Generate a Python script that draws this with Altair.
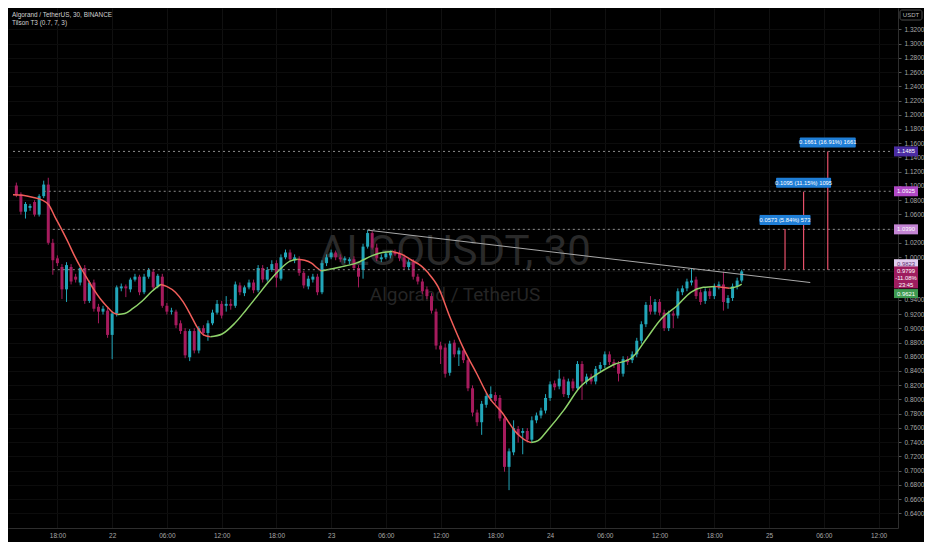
import altair as alt
import pandas as pd

W, H = 890, 520

# ---------------- candle data (30 min bars) ----------------
bar_times = [t.strftime("%Y-%m-%dT%H:%M:00Z")
             for t in pd.date_range("2022-01-21 13:30", periods=160, freq="30min")]

opens = [
    1.1006, 1.0883, 1.0638, 1.0692, 1.0774, 1.0597, 1.0856, 1.1019, 1.0201, 0.9983,
    0.9861, 0.9547, 0.9861, 0.9725, 0.9643, 0.9847, 0.9384, 0.9643, 0.9302, 0.9234,
    0.9248, 0.8907, 0.9207, 0.9561, 0.9588, 0.9547, 0.9684, 0.9725, 0.9506, 0.9725,
    0.9793, 0.9588, 0.9725, 0.9316, 0.9234, 0.9234, 0.9070, 0.8961, 0.8593, 0.8961,
    0.8688, 0.9002, 0.8934, 0.9070, 0.9220, 0.9343, 0.9316, 0.9343, 0.9316, 0.9602,
    0.9493, 0.9575, 0.9643, 0.9534, 0.9847, 0.9684, 0.9820, 0.9915, 0.9697, 0.9997,
    1.0065, 0.9956, 0.9970, 0.9779, 0.9588, 0.9684, 0.9725, 0.9506, 0.9915, 0.9997,
    1.0065, 0.9997, 0.9956, 0.9943, 0.9970, 0.9847, 0.9820, 1.0147, 1.0338, 1.0133,
    0.9970, 0.9997, 1.0024, 1.0065, 1.0052, 0.9997, 0.9861, 0.9929, 0.9725, 0.9657,
    0.9547, 0.9452, 0.9234, 0.8757, 0.8729, 0.8375, 0.8798, 0.8634, 0.8688, 0.8552,
    0.8157, 0.7816, 0.7680, 0.7925, 0.8021, 0.8062, 0.8021, 0.7734, 0.7053, 0.7257,
    0.7585, 0.7530, 0.7557, 0.7435, 0.7707, 0.7775, 0.7844, 0.8021, 0.8225, 0.8184,
    0.8280, 0.8062, 0.8253, 0.8157, 0.8498, 0.8253, 0.8321, 0.8253, 0.8430, 0.8484,
    0.8634, 0.8525, 0.8498, 0.8362, 0.8566, 0.8552, 0.8634, 0.8825, 0.9057, 0.9329,
    0.9234, 0.9370, 0.9220, 0.9002, 0.9207, 0.9179, 0.9506, 0.9561, 0.9643, 0.9684,
    0.9506, 0.9384, 0.9520, 0.9452, 0.9588, 0.9616, 0.9356, 0.9425, 0.9588, 0.9670,
]
highs = [
    1.1047, 1.0910, 1.0774, 1.0747, 1.0801, 1.0883, 1.1074, 1.1115, 1.0256, 1.0024,
    0.9902, 0.9929, 0.9902, 0.9765, 0.9874, 0.9888, 0.9670, 0.9684, 0.9343, 0.9316,
    0.9288, 0.9234, 0.9602, 0.9629, 0.9616, 0.9711, 0.9765, 0.9752, 0.9765, 0.9847,
    0.9834, 0.9765, 0.9765, 0.9356, 0.9288, 0.9261, 0.9111, 0.9002, 0.8988, 0.9002,
    0.9029, 0.9043, 0.9111, 0.9261, 0.9397, 0.9384, 0.9452, 0.9411, 0.9657, 0.9643,
    0.9602, 0.9684, 0.9684, 0.9888, 0.9888, 0.9861, 0.9956, 0.9956, 1.0038, 1.0106,
    1.0106, 1.0038, 1.0011, 0.9806, 0.9738, 0.9765, 0.9765, 0.9956, 1.0038, 1.0106,
    1.0092, 1.0038, 1.0011, 0.9997, 1.0011, 0.9888, 1.0188, 1.0379, 1.0365, 1.0188,
    1.0038, 1.0079, 1.0092, 1.0106, 1.0092, 1.0038, 0.9970, 0.9970, 0.9765, 0.9697,
    0.9588, 0.9493, 0.9275, 0.8811, 0.8784, 0.8825, 0.8839, 0.8729, 0.8729, 0.8593,
    0.8198, 0.7857, 0.7980, 0.8089, 0.8184, 0.8103, 0.8062, 0.7775, 0.7312, 0.7707,
    0.7626, 0.7598, 0.7598, 0.7762, 0.7816, 0.7884, 0.8075, 0.8253, 0.8266, 0.8416,
    0.8321, 0.8293, 0.8293, 0.8539, 0.8539, 0.8362, 0.8362, 0.8470, 0.8525, 0.8675,
    0.8675, 0.8566, 0.8539, 0.8607, 0.8607, 0.8675, 0.8866, 0.9098, 0.9370, 0.9452,
    0.9411, 0.9411, 0.9261, 0.9248, 0.9248, 0.9561, 0.9602, 0.9697, 0.9847, 0.9725,
    0.9547, 0.9561, 0.9561, 0.9629, 0.9657, 0.9793, 0.9465, 0.9629, 0.9711, 0.9823,
]
lows = [
    1.0842, 1.0597, 1.0542, 1.0651, 1.0570, 1.0570, 1.0829, 1.0174, 0.9752, 0.9874,
    0.9411, 0.9370, 0.9616, 0.9643, 0.9602, 0.9343, 0.9356, 0.9234, 0.9070, 0.9193,
    0.8866, 0.8566, 0.9166, 0.9520, 0.9438, 0.9506, 0.9657, 0.9465, 0.9479, 0.9697,
    0.9547, 0.9561, 0.9288, 0.9193, 0.9193, 0.9002, 0.8920, 0.8580, 0.8539, 0.8648,
    0.8648, 0.8893, 0.8825, 0.9043, 0.9193, 0.9138, 0.9234, 0.9261, 0.9288, 0.9465,
    0.9452, 0.9547, 0.9493, 0.9506, 0.9643, 0.9657, 0.9793, 0.9575, 0.9670, 0.9970,
    0.9929, 0.9915, 0.9738, 0.9561, 0.9547, 0.9643, 0.9465, 0.9479, 0.9874, 0.9970,
    0.9956, 0.9929, 0.9915, 0.9902, 0.9820, 0.9575, 0.9697, 1.0120, 1.0106, 0.9943,
    0.9929, 0.9970, 0.9983, 1.0011, 0.9943, 0.9820, 0.9820, 0.9684, 0.9616, 0.9479,
    0.9411, 0.9207, 0.8702, 0.8498, 0.8307, 0.8334, 0.8593, 0.8470, 0.8511, 0.8116,
    0.7762, 0.7626, 0.7503, 0.7884, 0.7980, 0.7939, 0.7694, 0.6985, 0.6726, 0.7216,
    0.7394, 0.7230, 0.7394, 0.7394, 0.7666, 0.7734, 0.7803, 0.7980, 0.8130, 0.8143,
    0.8034, 0.8021, 0.8116, 0.8130, 0.7993, 0.8212, 0.8212, 0.8212, 0.8389, 0.8443,
    0.8484, 0.8443, 0.8253, 0.8321, 0.8484, 0.8511, 0.8593, 0.8784, 0.9016, 0.9193,
    0.9193, 0.9179, 0.8961, 0.8961, 0.9002, 0.9138, 0.9465, 0.9520, 0.9602, 0.9411,
    0.9329, 0.9343, 0.9411, 0.9411, 0.9547, 0.9248, 0.9275, 0.9384, 0.9547, 0.9643,
]
closes = [
    1.0869, 1.0638, 1.0747, 1.0719, 1.0597, 1.0856, 1.1019, 1.0201, 0.9956, 0.9915,
    0.9547, 0.9888, 0.9657, 0.9684, 0.9847, 0.9384, 0.9643, 0.9275, 0.9234, 0.9275,
    0.8907, 0.9207, 0.9575, 0.9588, 0.9561, 0.9684, 0.9725, 0.9506, 0.9725, 0.9820,
    0.9575, 0.9738, 0.9316, 0.9234, 0.9248, 0.9043, 0.8961, 0.8620, 0.8961, 0.8688,
    0.9002, 0.8934, 0.9070, 0.9220, 0.9343, 0.9179, 0.9343, 0.9316, 0.9616, 0.9506,
    0.9575, 0.9643, 0.9534, 0.9847, 0.9684, 0.9820, 0.9902, 0.9711, 0.9997, 1.0065,
    0.9970, 0.9997, 0.9779, 0.9602, 0.9697, 0.9725, 0.9506, 0.9915, 0.9997, 1.0065,
    0.9997, 0.9970, 0.9983, 0.9970, 0.9847, 0.9725, 1.0147, 1.0338, 1.0133, 0.9983,
    0.9997, 1.0052, 1.0065, 1.0038, 0.9983, 0.9861, 0.9929, 0.9725, 0.9657, 0.9520,
    0.9452, 0.9248, 0.8757, 0.8702, 0.8361, 0.8784, 0.8634, 0.8688, 0.8552, 0.8157,
    0.7816, 0.7680, 0.7939, 0.8048, 0.8075, 0.7980, 0.7734, 0.7053, 0.7271, 0.7598,
    0.7503, 0.7557, 0.7435, 0.7707, 0.7775, 0.7844, 0.8021, 0.8212, 0.8171, 0.8293,
    0.8075, 0.8253, 0.8157, 0.8498, 0.8253, 0.8321, 0.8253, 0.8430, 0.8484, 0.8634,
    0.8525, 0.8484, 0.8362, 0.8566, 0.8525, 0.8634, 0.8825, 0.9057, 0.9329, 0.9234,
    0.9370, 0.9220, 0.9002, 0.9207, 0.9179, 0.9520, 0.9561, 0.9657, 0.9670, 0.9452,
    0.9370, 0.9520, 0.9452, 0.9588, 0.9616, 0.9370, 0.9425, 0.9588, 0.9670, 0.9799,
]

# ---------------- Tilson T3 line ----------------
t3_times = [
    "2022-01-21T13:08:00Z", "2022-01-21T14:12:00Z", "2022-01-21T15:16:00Z", "2022-01-21T16:20:00Z",
    "2022-01-21T17:04:00Z", "2022-01-21T17:43:00Z", "2022-01-21T18:27:00Z", "2022-01-21T19:12:00Z",
    "2022-01-21T19:51:00Z", "2022-01-21T20:35:00Z", "2022-01-21T21:20:00Z", "2022-01-21T21:59:00Z",
    "2022-01-21T22:43:00Z", "2022-01-21T23:28:00Z", "2022-01-22T00:06:00Z", "2022-01-22T00:38:00Z",
    "2022-01-22T00:38:00Z", "2022-01-22T01:23:00Z", "2022-01-22T02:14:00Z", "2022-01-22T03:18:00Z",
    "2022-01-22T04:22:00Z", "2022-01-22T05:20:00Z",
    "2022-01-22T05:20:00Z", "2022-01-22T05:58:00Z", "2022-01-22T06:56:00Z", "2022-01-22T07:47:00Z",
    "2022-01-22T08:38:00Z", "2022-01-22T09:23:00Z", "2022-01-22T10:01:00Z", "2022-01-22T10:46:00Z",
    "2022-01-22T10:46:00Z", "2022-01-22T12:03:00Z", "2022-01-22T13:26:00Z", "2022-01-22T14:42:00Z",
    "2022-01-22T15:59:00Z", "2022-01-22T17:16:00Z", "2022-01-22T18:33:00Z", "2022-01-22T19:30:00Z",
    "2022-01-22T20:21:00Z",
    "2022-01-22T20:21:00Z", "2022-01-22T21:06:00Z", "2022-01-22T21:51:00Z", "2022-01-22T22:29:00Z",
    "2022-01-22T22:55:00Z",
    "2022-01-22T22:55:00Z", "2022-01-22T23:59:00Z", "2022-01-23T01:03:00Z", "2022-01-23T02:45:00Z",
    "2022-01-23T04:34:00Z", "2022-01-23T05:38:00Z", "2022-01-23T06:42:00Z",
    "2022-01-23T06:42:00Z", "2022-01-23T07:46:00Z", "2022-01-23T08:50:00Z", "2022-01-23T09:54:00Z",
    "2022-01-23T10:38:00Z", "2022-01-23T11:42:00Z", "2022-01-23T13:05:00Z", "2022-01-23T14:28:00Z",
    "2022-01-23T15:58:00Z", "2022-01-23T17:21:00Z", "2022-01-23T18:44:00Z", "2022-01-23T20:14:00Z",
    "2022-01-23T21:37:00Z", "2022-01-23T21:56:00Z",
    "2022-01-23T21:56:00Z", "2022-01-23T22:41:00Z", "2022-01-23T23:45:00Z", "2022-01-24T01:33:00Z",
    "2022-01-24T03:16:00Z", "2022-01-24T05:04:00Z", "2022-01-24T06:53:00Z", "2022-01-24T09:01:00Z",
    "2022-01-24T10:24:00Z", "2022-01-24T12:13:00Z", "2022-01-24T13:55:00Z", "2022-01-24T15:25:00Z",
    "2022-01-24T16:48:00Z", "2022-01-24T18:05:00Z",
    "2022-01-24T18:05:00Z", "2022-01-24T18:49:00Z", "2022-01-24T19:40:00Z",
    "2022-01-24T19:40:00Z", "2022-01-24T20:32:00Z", "2022-01-24T21:00:00Z",
]
t3_values = [
    1.0876, 1.0869, 1.0842, 1.0801, 1.0733, 1.0570, 1.0392, 1.0202, 1.0024, 0.9847,
    0.9684, 0.9547, 0.9411, 0.9302, 0.9220, 0.9193,
    0.9193, 0.9207, 0.9275, 0.9384, 0.9520, 0.9616,
    0.9616, 0.9588, 0.9506, 0.9370, 0.9179, 0.9002, 0.8907, 0.8880,
    0.8880, 0.8920, 0.9070, 0.9261, 0.9466, 0.9670, 0.9847, 0.9943, 0.9970,
    0.9970, 0.9956, 0.9915, 0.9847, 0.9806,
    0.9806, 0.9834, 0.9861, 0.9915, 1.0024, 1.0065, 1.0079,
    1.0079, 1.0038, 0.9956, 0.9874, 0.9779, 0.9588, 0.9138, 0.8729, 0.8361, 0.8021,
    0.7816, 0.7544, 0.7407, 0.7394,
    0.7394, 0.7421, 0.7571, 0.7857, 0.8171, 0.8348, 0.8484, 0.8593, 0.8825, 0.9138,
    0.9316, 0.9506, 0.9575, 0.9588,
    0.9588, 0.9575, 0.9561,
    0.9561, 0.9588, 0.9621,
]
t3_segment = ([0] * 16 + [1] * 6 + [2] * 8 + [3] * 9 + [4] * 5 + [5] * 7 +
              [6] * 14 + [7] * 14 + [8] * 3 + [9] * 3)

# ---------------- drawings ----------------
domain_start = "2022-01-21T13:08:00Z"
domain_end = "2022-01-25T13:35:00Z"
level_prices = [1.1485, 1.0925, 1.0390, 0.9823]
level_starts = ["2022-01-21T13:08:00Z", "2022-01-21T16:30:00Z",
                "2022-01-21T17:30:00Z", "2022-01-21T17:30:00Z"]

trend_times = ["2022-01-23T04:00:00Z", "2022-01-25T04:31:00Z"]
trend_prices = [1.0379, 0.9643]

measure_times = ["2022-01-25T01:45:00Z", "2022-01-25T03:47:00Z", "2022-01-25T06:26:00Z"]
measure_base = 0.9823
measure_tops = [1.0396, 1.0918, 1.1484]
measure_texts = ["0.0573 (5.84%) 573", "0.1095 (11.15%) 1095", "0.1661 (16.91%) 1661"]
measure_box_w = [51, 55, 56]

x_tick_times = [
    "2022-01-21T18:00", "2022-01-22T00:00", "2022-01-22T06:00", "2022-01-22T12:00",
    "2022-01-22T18:00", "2022-01-23T00:00", "2022-01-23T06:00", "2022-01-23T12:00",
    "2022-01-23T18:00", "2022-01-24T00:00", "2022-01-24T06:00", "2022-01-24T12:00",
    "2022-01-24T18:00", "2022-01-25T00:00", "2022-01-25T06:00", "2022-01-25T12:00",
]
y_ticks = [0.64, 0.66, 0.68, 0.70, 0.72, 0.74, 0.76, 0.78, 0.80, 0.82, 0.84, 0.86,
           0.88, 0.90, 0.92, 0.94, 0.96, 0.98, 1.00, 1.02, 1.04, 1.06, 1.08, 1.10,
           1.12, 1.14, 1.16, 1.18, 1.20, 1.22, 1.24, 1.26, 1.28, 1.30, 1.32]
hidden_y_labels = [0.96, 0.98, 1.04]   # covered by the price tags in the reference

# ---------------- build ----------------
def dt(s):
    ts = pd.Timestamp(s.replace("Z", ""))
    return alt.DateTime(year=ts.year, month=ts.month, date=ts.day,
                        hours=ts.hour, minutes=ts.minute, utc=True)

FONT = "Liberation Sans"
x_scale = alt.Scale(type="utc", domain=[dt(domain_start), dt(domain_end)])
y_scale = alt.Scale(domain=[0.6194, 1.35], nice=False, zero=False)
x_axis = alt.Axis(values=[dt(v) for v in x_tick_times],
                  labelExpr="utchours(datum.value) == 0 ? utcFormat(datum.value, '%-d') : utcFormat(datum.value, '%H:%M')",
                  grid=True, gridColor="#101010", domainColor="#2e2e2e", ticks=False,
                  labelColor="#a8a8a8", labelFont=FONT, labelFontSize=6.5, labelPadding=4,
                  labelAngle=0, labelOverlap=False, labelFlush=False, title=None)
hide_expr = " || ".join(f"abs(datum.value - {v}) < 0.0001" for v in hidden_y_labels)
y_axis = alt.Axis(orient="right", values=y_ticks, grid=True, gridColor="#0c0c0c",
                  labelExpr=f"({hide_expr}) ? '' : format(datum.value, '.4f')",
                  domainColor="#2e2e2e", tickColor="#555555", tickSize=3,
                  labelColor="#a8a8a8", labelFont=FONT, labelFontSize=6.5, labelPadding=3,
                  labelOverlap=False, labelFlush=False, title=None)

color_scale = alt.Scale(domain=["up", "down", "t3_up", "t3_down"],
                        range=["#22a6b9", "#a61b5d", "#8fd36b", "#f25e5a"])


def X(f, **kw):
    return alt.X(f"{f}:T", scale=x_scale, axis=x_axis, **kw)


def Y(f, **kw):
    return alt.Y(f"{f}:Q", scale=y_scale, axis=y_axis, **kw)


candles = pd.DataFrame({"time": bar_times, "open": opens, "high": highs,
                        "low": lows, "close": closes})
candles["dir"] = ["up" if c >= o else "down" for o, c in zip(opens, closes)]

t3 = pd.DataFrame({"time": t3_times, "value": t3_values, "seg": t3_segment})
t3["dir"] = ["t3_down" if s % 2 == 0 else "t3_up" for s in t3_segment]

levels = pd.DataFrame({"start": level_starts, "end": [domain_end] * 4, "price": level_prices})
trend = pd.DataFrame({"t1": [trend_times[0]], "t2": [trend_times[1]],
                      "p1": [trend_prices[0]], "p2": [trend_prices[1]]})
measure = pd.DataFrame({"time": measure_times, "base": [measure_base] * 3,
                        "top": measure_tops, "text": measure_texts})

base = alt.Chart(candles)
color = alt.Color("dir:N", scale=color_scale, legend=None)

watermark = alt.Chart(pd.DataFrame({"a": [0]})).mark_text(
    text="ALGOUSDT, 30", font="Roboto", fontSize=42, color="#2a2a2a",
    align="center", baseline="alphabetic").encode(x=alt.value(447), y=alt.value(257))
watermark2 = alt.Chart(pd.DataFrame({"a": [0]})).mark_text(
    text="Algorand / TetherUS", font="Roboto", fontSize=19, color="#252525",
    align="center", baseline="alphabetic").encode(x=alt.value(447), y=alt.value(293))

wicks = base.mark_rule(strokeWidth=1).encode(x=X("time"), y=Y("low"), y2="high", color=color)
bodies = base.mark_bar(width=3).encode(x=X("time"), y=Y("open"), y2="close", color=color)

t3_line = alt.Chart(t3).mark_line(interpolate="monotone", strokeWidth=1.5).encode(
    x=X("time"), y=Y("value"), detail="seg:N",
    color=alt.Color("dir:N", scale=color_scale, legend=None))

level_lines = alt.Chart(levels).mark_rule(strokeDash=[2, 3], strokeWidth=1, color="#8c8c8c").encode(
    x=X("start"), x2="end", y=Y("price"))

trend_line = alt.Chart(trend).mark_rule(strokeWidth=1, color="#a9a9a9").encode(
    x=X("t1"), x2="t2", y=Y("p1"), y2="p2")

measure_lines = alt.Chart(measure).mark_rule(strokeWidth=1.2, color="#e8506a").encode(
    x=X("time"), y=Y("base"), y2="top")

layers = [watermark, watermark2, wicks, bodies, t3_line, level_lines, trend_line, measure_lines]

for txt, w in zip(measure_texts, measure_box_w):
    sub = alt.Chart(measure).transform_filter(alt.datum.text == txt)
    layers.append(sub.mark_rect(width=w, height=10, yOffset=-9, color="#1f7ed6", cornerRadius=1)
                  .encode(x=X("time"), y=Y("top")))
    layers.append(sub.mark_text(yOffset=-9, fontSize=5.8, font=FONT, color="#ffffff",
                                align="center", baseline="middle")
                  .encode(x=X("time"), y=Y("top"), text="text:N"))

# price-axis tags
tags = [
    # price, label lines, fill, text colour, vertical shift, box height
    (1.1485, ["1.1485"], "#4b2ca3", "#ffffff", 0, 10),
    (1.0925, ["1.0925"], "#b048c5", "#ffffff", 0, 10),
    (1.0390, ["1.0390"], "#c384d3", "#ffffff", 0, 10),
    (0.9823, ["0.9823"], "#e2cdee", "#5c2f73", -6, 9),
    (0.9799, ["0.9799", "-11.08%", "23:45"], "#9e1d5f", "#ffffff", 0, 22),
    (0.9621, ["0.9621"], "#3e9a50", "#ffffff", 9.5, 9),
]
for price, lines, fill, tcol, shift, hgt in tags:
    df = pd.DataFrame({"time": [domain_end], "price": [price]})
    c = alt.Chart(df)
    box_center = shift + (hgt - 10) / 2 if len(lines) > 1 else shift
    layers.append(c.mark_rect(width=24, height=hgt, xOffset=13, yOffset=box_center, color=fill)
                  .encode(x=X("time"), y=Y("price")))
    for k, ln in enumerate(lines):
        layers.append(c.mark_text(text=ln, xOffset=13, yOffset=shift + 7 * k, fontSize=5.9,
                                  font=FONT, color=tcol, align="center", baseline="middle")
                      .encode(x=X("time"), y=Y("price")))

one = pd.DataFrame({"a": [0]})
usdt_box = alt.Chart(one).mark_rect(fill="#000000", stroke="#4a4a4a", strokeWidth=1,
                                    cornerRadius=2).encode(
    x=alt.value(W + 2), x2=alt.value(W + 24), y=alt.value(2), y2=alt.value(12))
usdt_text = alt.Chart(one).mark_text(text="USDT", fontSize=6, font=FONT, color="#b8b8b8",
                                     align="center", baseline="middle").encode(
    x=alt.value(W + 13), y=alt.value(7))
header1 = alt.Chart(one).mark_text(text="Algorand / TetherUS, 30, BINANCE", fontSize=6.4,
                                   font=FONT, color="#d0d0d0", align="left",
                                   baseline="middle").encode(x=alt.value(4), y=alt.value(7))
header2 = alt.Chart(one).mark_text(text="Tilson T3 (0.7, 7, 3)", fontSize=6.4, font=FONT,
                                   color="#d0d0d0", align="left",
                                   baseline="middle").encode(x=alt.value(4), y=alt.value(15))
layers += [usdt_box, usdt_text, header1, header2]

chart = alt.layer(*layers).properties(
    width=W, height=H, background="#000000",
    padding={"left": 0, "top": 0, "right": 26, "bottom": 14},
    autosize=alt.AutoSizeParams(type="none"),
).configure_view(stroke=None)

chart.save("out.html", embed_options={"renderer": "svg", "actions": False})
